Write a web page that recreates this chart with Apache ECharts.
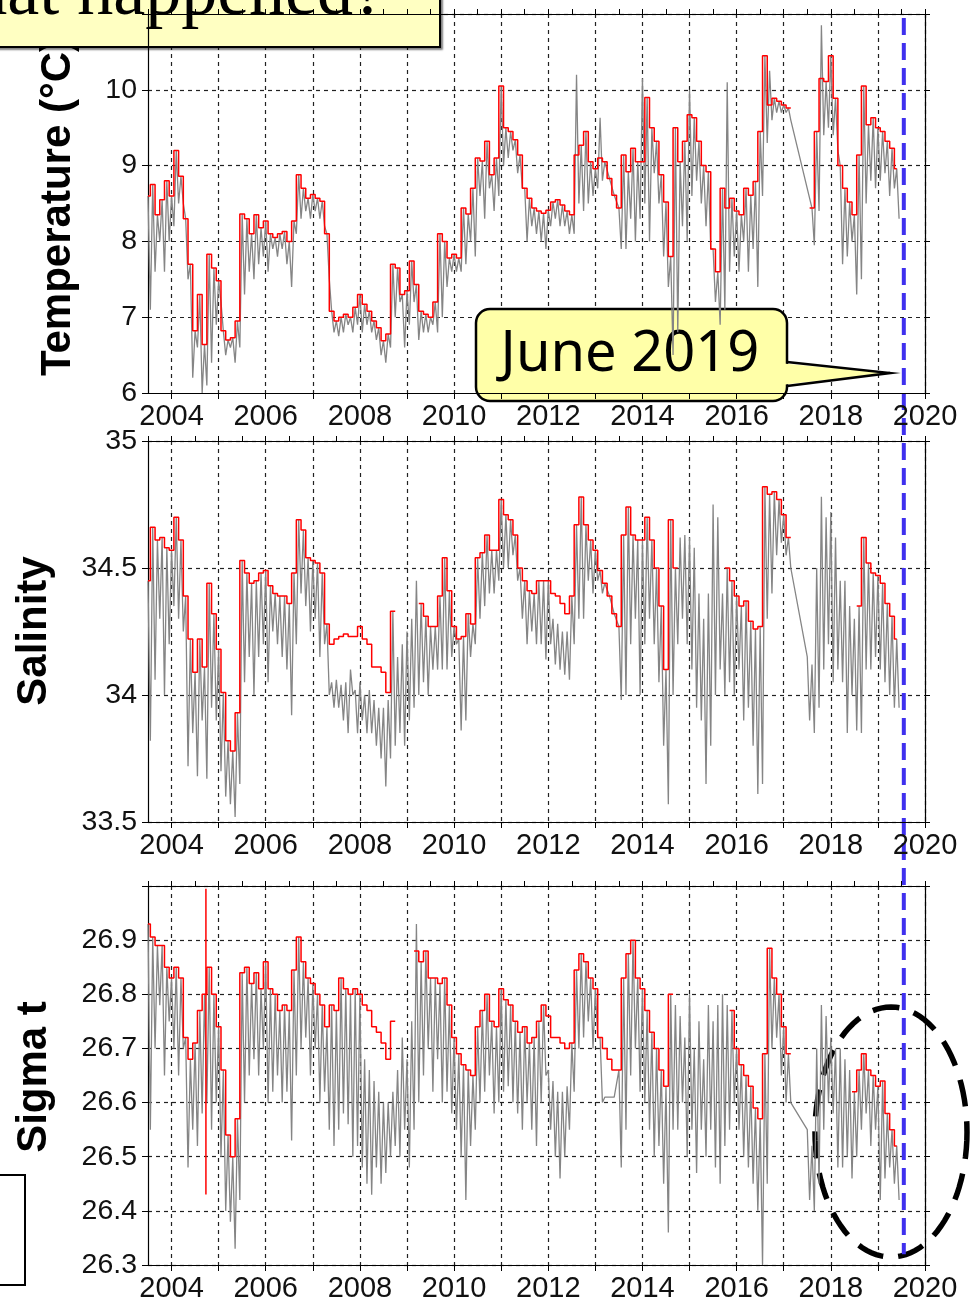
<!DOCTYPE html>
<html>
<head>
<meta charset="utf-8">
<title>Temperature, salinity and sigma t</title>
<script src="https://cdn.jsdelivr.net/npm/echarts@6/dist/echarts.min.js"></script>
<style>
  html, body { margin: 0; padding: 0; background: #fff; }
  #chart { width: 971px; height: 1304px; }
</style>
</head>
<body>
<div id="chart"></div>
<script>
// one sample every 0.1 yr, from 2003.5 to 2019.4 (160 values per array)
const t0 = 2003.5;
const dt = 0.1;

const years = [2004, 2005, 2006, 2007, 2008, 2009, 2010, 2011, 2012, 2013, 2014, 2015, 2016, 2017, 2018, 2019, 2020];
const yearLabels = [2004, 2006, 2008, 2010, 2012, 2014, 2016, 2018, 2020];
const june2019 = 2019.55;

// Temperature (°C): red = upper trace, gray spikes down to tLo
const tRed = [
  8.6, 8.75, 8.35, 8.55, 8.8,
  8.6, 9.2, 8.86, 8.3, 7.7, 6.82, 7.3, 6.64, 7.83, 7.65,
  7.48, 6.82, 6.7, 6.73, 6.95, 8.36, 8.3, 8.1, 8.35, 8.18,
  8.27, 8.1, 8.05, 8.1, 8.13, 8.0, 8.27, 8.88, 8.7, 8.57,
  8.62, 8.57, 8.53, 8.1, 7.08, 6.95, 7.0, 7.04, 7.0, 7.13,
  7.3, 7.17, 7.08, 6.95, 6.86, 6.69, 6.78, 7.7, 7.65, 7.3,
  7.35, 7.74, 7.43, 7.08, 7.04, 7.0, 7.2, 8.1, 8.0, 7.78,
  7.83, 7.78, 8.44, 8.36, 8.7, 9.1, 9.06, 9.32, 8.88, 9.1,
  10.05, 9.5, 9.45, 9.34, 9.14, 8.7, 8.57, 8.44, 8.4, 8.37,
  8.41, 8.52, 8.55, 8.48, 8.4, 8.35, 9.14, 9.27, 9.45, 9.05,
  8.96, 9.1, 9.05, 8.83, 8.61, 8.44, 9.14, 8.92, 9.23, 9.05,
  9.05, 9.9, 9.5, 9.32, 8.88, 8.52, 7.8, 9.5, 9.05, 9.32,
  9.67, 9.63, 9.32, 9.0, 8.92, 7.9, 7.6, 8.7, 8.44, 8.57,
  8.4, 8.35, 8.7, 8.61, 8.79, 9.45, 10.45, 9.8, 9.89, 9.85,
  9.8, 9.76, null, null, null, null, 8.44, 9.45, 10.15, 10.11,
  10.45, 9.89, 9.0, 8.7, 8.52, 8.35, 9.14, 10.05, 9.54, 9.63,
  9.5, 9.45, 9.32, 9.23, 8.96
];
const tLo = [
  7.1, 7.6, 8.0, 7.6, 8.0,
  8.2, 8.5, 8.5, 7.5, 6.2, 6.6, 6.0, 6.1, 6.4, 6.9,
  7.2, 6.5, 6.6, 6.4, 6.6, 7.3, 7.6, 7.5, 7.7, 7.8,
  7.6, 7.9, 7.8, 7.9, 7.7, 7.4, 8.1, 8.3, 8.4, 8.3,
  8.4, 8.3, 8.2, 7.5, 6.8, 6.75, 6.8, 6.9, 6.8, 6.9,
  6.8, 6.9, 6.8, 6.7, 6.5, 6.4, 6.6, 7.0, 7.2, 6.6,
  6.9, 7.2, 6.7, 6.8, 6.8, 6.9, 6.8, 7.0, 7.4, 7.6,
  7.6, 7.6, 7.7, 8.0, 7.8, 8.6, 8.3, 8.7, 8.4, 8.6,
  9.0, 9.1, 9.2, 8.9, 8.7, 8.0, 8.2, 8.1, 8.0, 7.9,
  8.2, 8.3, 8.2, 8.2, 8.1, 8.1, 8.5, 8.4, 8.5, 8.6,
  8.7, 8.8, null, null, null, 7.9, 7.9, 8.3, 8.0, 8.3,
  8.5, 8.0, 8.9, 8.5, 7.8, 7.4, 6.5, 6.8, 8.2, 8.0,
  8.6, 8.8, 8.5, 8.2, 7.9, 7.2, 6.9, 7.1, 7.6, 7.8,
  7.6, 8.0, 7.6, 7.9, 7.4, 8.6, 9.3, 9.6, 9.7, 9.7,
  9.7, 9.6, null, null, null, null, 7.95, 8.4, 9.4, 9.5,
  9.4, 9.2, 7.7, 7.8, 8.0, 7.3, 7.5, 8.5, 8.8, 8.7,
  8.8, 8.9, 8.6, 8.7, 8.3
];
// gray tops that differ from the red trace
const tUp = { '2012.6': 10.2, '2013.1': 9.63, '2014.0': 10.15, '2015.0': 10.0, '2015.8': 10.1, '2016.7': 10.25, '2017.8': 10.85 };

// Salinity
const sRed = [
  34.45, 34.66, 34.61, 34.62, 34.58,
  34.57, 34.7, 34.61, 34.39, 34.22, 34.09, 34.22, 34.11, 34.44, 34.32,
  34.18, 34.01, 33.82, 33.78, 33.93, 34.53, 34.48, 34.44, 34.45, 34.48,
  34.49, 34.43, 34.4, 34.39, 34.39, 34.36, 34.48, 34.69, 34.65, 34.54,
  34.53, 34.52, 34.48, 34.28, 34.2, 34.22, 34.23, 34.24, 34.23, 34.23,
  34.27, 34.22, 34.2, 34.11, 34.11, 34.09, 34.01, 34.33, null, null,
  null, null, null, 34.36, 34.31, 34.27, 34.27, 34.39, 34.54, 34.41,
  34.27, 34.22, 34.23, 34.32, 34.28, 34.54, 34.56, 34.63, 34.57, 34.57,
  34.77, 34.71, 34.69, 34.63, 34.5, 34.45, 34.41, 34.4, 34.45, 34.45,
  34.45, 34.4, 34.39, 34.36, 34.32, 34.39, 34.67, 34.78, 34.67, 34.61,
  34.57, 34.49, 34.44, 34.39, 34.32, 34.27, 34.63, 34.74, 34.63, 34.61,
  34.61, 34.7, 34.61, 34.5, 34.35, 34.1, 34.69, 34.5, null, null,
  null, null, null, null, null, null, null, null, 34.5, 34.45,
  34.39, 34.35, 34.37, 34.29, 34.26, 34.27, 34.82, 34.79, 34.8, 34.77,
  34.71, 34.62, null, null, null, null, null, null, null, null,
  null, null, null, null, null, null, 34.35, 34.62, 34.52, 34.48,
  34.47, 34.44, 34.36, 34.31, 34.22
];
const sLo = [
  33.82, 34.06, 34.3, 34.0, 34.2,
  34.35, 34.3, 34.25, 33.72, 33.85, 33.68, 33.9, 33.67, 33.95, 33.9,
  33.7, 33.6, 33.57, 33.52, 33.65, 34.05, 34.15, 34.0, 34.15, 34.2,
  34.05, 34.25, 34.2, 34.15, 34.1, 33.92, 34.2, 34.4, 34.35, 34.25,
  34.3, 34.15, 34.2, 34.0, 33.95, 33.95, 33.9, 33.85, 34.0, 33.85,
  33.9, 33.85, 33.85, 33.8, 33.75, 33.64, 33.75, 33.8, 33.85, 33.8,
  33.9, 33.95, 34.0, 34.05, 34.0, 34.1, 34.1, 34.1, 34.1, 34.15,
  34.2, 33.86, 33.9, 34.15, 34.2, 34.3, 34.35, 34.4, 34.4, 34.45,
  34.5, 34.5, 34.55, 34.45, 34.3, 34.2, 34.25, 34.2, 34.2, 34.14,
  34.2, 34.12, 34.1, 34.08, 34.06, 34.2, 34.3, 34.3, 34.45, 34.4,
  34.45, 34.4, null, null, null, 33.98, 34.0, 34.2, 34.3, 34.0,
  34.2, 34.3, 34.2, 34.05, 33.8, 33.57, 34.0, 34.2, 34.3, 34.2,
  34.1, 33.95, 33.9, 33.65, 33.8, 34.0, 34.1, 34.0, 34.05, 34.0,
  34.1, 33.9, 33.95, 33.8, 33.61, 33.65, 34.3, 34.4, 34.55, 34.6,
  34.55, 34.5, null, null, null, 33.9, 33.85, 33.95, 34.1, 34.2,
  34.05, 34.1, 34.05, 33.85, 34.0, 33.86, 33.85, 34.1, 34.1, 34.15,
  34.1, 34.05, 34.0, 33.95, 33.95
];
const sUp = {
  '2007.4': 34.05, '2007.5': 34.06, '2007.6': 34.04, '2007.7': 34.05, '2007.8': 34.1, '2007.9': 34.02,
  '2008.0': 34.05, '2008.1': 34.0, '2008.2': 34.02, '2008.3': 33.98, '2008.4': 33.95, '2008.5': 33.95, '2008.6': 33.98,
  '2008.8': 34.15, '2008.9': 34.2, '2009.0': 34.25, '2009.1': 34.3, '2009.2': 34.45,
  '2012.1': 34.3, '2012.2': 34.28, '2012.3': 34.25, '2012.4': 34.25,
  '2014.8': 34.62, '2014.9': 34.63, '2015.0': 34.62, '2015.1': 34.58, '2015.2': 34.4, '2015.3': 34.3,
  '2015.4': 34.4, '2015.5': 34.75, '2015.6': 34.7, '2015.7': 34.4,
  '2017.5': 34.15, '2017.6': 34.12, '2017.7': 34.5, '2017.8': 34.78, '2017.9': 34.7, '2018.0': 34.72,
  '2018.1': 34.62, '2018.2': 34.45, '2018.3': 34.45, '2018.4': 34.35, '2018.5': 34.3
};

// Sigma t
const gRed = [
  26.93, 26.906, 26.89, 26.89, 26.85,
  26.83, 26.85, 26.83, 26.72, 26.68, 26.71, 26.77, 26.8, 26.85, 26.8,
  26.74, 26.66, 26.54, 26.5, 26.57, 26.84, 26.85, 26.82, 26.84, 26.81,
  26.86, 26.81, 26.8, 26.77, 26.78, 26.77, 26.845, 26.906, 26.86, 26.83,
  26.82, 26.8, 26.78, 26.74, 26.78, 26.77, 26.83, 26.81, 26.8, 26.81,
  26.8, 26.78, 26.77, 26.74, 26.73, 26.71, 26.68, 26.75, null, null,
  null, null, 26.88, 26.86, 26.88, 26.83, 26.83, 26.82, 26.83, 26.78,
  26.72, 26.69, 26.67, 26.66, 26.65, 26.74, 26.77, 26.8, 26.75, 26.74,
  26.81, 26.79, 26.78, 26.75, 26.73, 26.74, 26.71, 26.72, 26.75, 26.78,
  26.76, 26.72, 26.72, 26.71, 26.7, 26.71, 26.845, 26.875, 26.86, 26.83,
  26.81, 26.72, 26.7, 26.68, 26.66, 26.66, 26.83, 26.875, 26.9, 26.83,
  26.81, 26.77, 26.73, 26.7, 26.66, 26.63, 26.8, null, null, null,
  null, null, null, null, null, null, null, null, null, 26.77,
  26.7, 26.67, 26.65, 26.63, 26.59, 26.57, 26.69, 26.885, 26.83, 26.8,
  26.74, 26.69, null, null, null, null, null, null, null, null,
  null, null, null, null, null, 26.62, 26.66, 26.69, 26.66, 26.65,
  26.63, 26.64, 26.58, 26.55, 26.52
];
const gLo = [
  26.55, 26.7, 26.78, 26.65, 26.75,
  26.7, 26.65, 26.7, 26.48, 26.55, 26.52, 26.58, 26.6, 26.55, 26.6,
  26.5, 26.4, 26.38, 26.33, 26.42, 26.6, 26.65, 26.68, 26.65, 26.7,
  26.6, 26.62, 26.65, 26.6, 26.62, 26.53, 26.65, 26.7, 26.72, 26.65,
  26.7, 26.6, 26.62, 26.55, 26.52, 26.55, 26.58, 26.56, 26.5, 26.52,
  26.48, 26.45, 26.43, 26.48, 26.45, 26.47, 26.5, 26.52, 26.5, 26.55,
  26.48, 26.55, 26.6, 26.65, 26.7, 26.62, 26.68, 26.6, 26.62, 26.58,
  26.55, 26.5, 26.42, 26.52, 26.55, 26.6, 26.62, 26.65, 26.58, 26.6,
  26.62, 26.63, 26.6, 26.58, 26.55, 26.6, 26.55, 26.52, 26.6, 26.65,
  26.55, 26.5, 26.46, 26.5, 26.55, 26.62, 26.7, 26.72, 26.75, 26.7,
  26.72, 26.6, null, null, null, 26.48, 26.55, 26.65, 26.7, 26.62,
  26.6, 26.55, 26.5, 26.52, 26.45, 26.36, 26.55, 26.55, 26.6, 26.5,
  26.55, 26.47, 26.55, 26.5, 26.55, 26.48, 26.45, 26.52, 26.55, 26.6,
  26.55, 26.5, 26.48, 26.45, 26.4, 26.3, 26.45, 26.7, 26.72, 26.65,
  26.6, 26.6, null, null, null, 26.42, 26.4, 26.45, 26.55, 26.6,
  26.58, 26.48, 26.48, 26.5, 26.46, 26.5, 26.55, 26.58, 26.52, 26.55,
  26.42, 26.46, 26.48, 26.45, 26.42
];
const gUp = {
  '2008.1': 26.68, '2008.2': 26.66, '2008.3': 26.64, '2008.4': 26.62, '2008.5': 26.6, '2008.6': 26.6, '2008.7': 26.62,
  '2008.8': 26.66, '2008.9': 26.72, '2009.0': 26.68, '2009.1': 26.75, '2009.2': 26.93,
  '2012.0': 26.66, '2012.1': 26.64, '2012.2': 26.62, '2012.3': 26.62, '2012.4': 26.63,
  '2013.2': 26.61, '2013.3': 26.61, '2013.4': 26.61,
  '2014.7': 26.78, '2014.8': 26.76, '2014.9': 26.72, '2015.0': 26.8, '2015.1': 26.7, '2015.2': 26.75,
  '2015.3': 26.68, '2015.4': 26.78, '2015.5': 26.75, '2015.6': 26.78, '2015.7': 26.8, '2015.8': 26.78,
  '2017.5': 26.55, '2017.6': 26.52, '2017.7': 26.7, '2017.8': 26.78, '2017.9': 26.76, '2018.0': 26.72,
  '2018.1': 26.7, '2018.2': 26.7, '2018.3': 26.68, '2018.4': 26.66
};
// single red spike in the sigma t record
const gSpike = [[2004.73, 26.43], [2004.73, 26.995]];

function tAt(i) { return Math.round((t0 + i * dt) * 100) / 100; }
function redLine(vals) { return vals.map((v, i) => [tAt(i), v]); }
// gray trace: top at each sample, low value half a step later
function grayLine(red, lo, up) {
  const pts = [];
  red.forEach((r, i) => {
    const t = tAt(i);
    const key = t.toFixed(1);
    const hi = key in up ? up[key] : r;
    if (hi != null) pts.push([t, hi]);
    if (lo[i] != null) pts.push([t + dt / 2, lo[i]]);
  });
  return pts;
}

const font = 'Liberation Sans';
const black = '#000';

function bottomX(g) {
  return {
    gridIndex: g, type: 'value', position: 'bottom', min: 2003.5, max: 2020,
    axisLine: { lineStyle: { color: black, width: 1.2 } },
    axisTick: { customValues: years, length: 6, lineStyle: { color: black } },
    axisLabel: { customValues: yearLabels, fontSize: 29, color: '#111', margin: 9, fontFamily: font,
      formatter: v => String(v) },
    splitLine: { show: true, lineStyle: { color: '#222', type: [4, 4], width: 1.2 } }
  };
}
function topX(g) {
  return {
    gridIndex: g, type: 'value', position: 'top', min: 2003.5, max: 2020, interval: 0.5,
    axisLine: { lineStyle: { color: black, width: 1.2 } },
    axisTick: { length: 5, lineStyle: { color: black } },
    axisLabel: { show: false },
    splitLine: { show: false }
  };
}
function leftY(g, min, max, step, fmt) {
  return {
    gridIndex: g, type: 'value', position: 'left', min: min, max: max, interval: step,
    axisLine: { show: true, lineStyle: { color: black, width: 1.2 } },
    axisTick: { show: true, length: 6, lineStyle: { color: black } },
    axisLabel: { fontSize: 28.5, color: '#111', margin: 11, fontFamily: font, formatter: fmt },
    splitLine: { show: true, lineStyle: { color: '#222', type: [4, 4], width: 1.2 } }
  };
}
function rightY(g, min, max, step) {
  return {
    gridIndex: g, type: 'value', position: 'right', min: min, max: max, interval: step,
    axisLine: { show: true, lineStyle: { color: black, width: 1.2 } },
    axisTick: { show: true, length: 5, lineStyle: { color: black } },
    axisLabel: { show: false },
    splitLine: { show: false }
  };
}
function gray(ax, data) {
  return { type: 'line', xAxisIndex: ax, yAxisIndex: ax, data: data, symbol: 'none',
    lineStyle: { color: '#858585', width: 1.3 }, z: 2, silent: true };
}
function red(ax, data, step) {
  return { type: 'line', xAxisIndex: ax, yAxisIndex: ax, data: data, symbol: 'none', connectNulls: false,
    step: step || false, lineStyle: { color: '#ff0000', width: 1.5 }, z: 3, silent: true };
}

const chart = echarts.init(document.getElementById('chart'));
chart.setOption({
  animation: false,
  backgroundColor: '#fff',
  textStyle: { fontFamily: font },
  grid: [
    { left: 148, top: 14, width: 777, height: 379 },
    { left: 148, top: 441, width: 777, height: 381 },
    { left: 148, top: 886, width: 777, height: 379 }
  ],
  xAxis: [bottomX(0), topX(0), bottomX(1), topX(1), bottomX(2), topX(2)],
  yAxis: [
    leftY(0, 6, 11, 1, v => (v >= 10.5 ? '' : String(v))),
    rightY(0, 6, 11, 1),
    leftY(1, 33.5, 35, 0.5, v => String(v)),
    rightY(1, 33.5, 35, 0.5),
    leftY(2, 26.3, 27.0, 0.1, v => (v >= 26.95 ? '' : v.toFixed(1))),
    rightY(2, 26.3, 27.0, 0.1)
  ],
  series: [
    gray(0, grayLine(tRed, tLo, tUp)),
    red(0, redLine(tRed), 'middle'),
    gray(2, grayLine(sRed, sLo, sUp)),
    red(2, redLine(sRed), 'middle'),
    gray(4, grayLine(gRed, gLo, gUp)),
    red(4, redLine(gRed), 'middle'),
    red(4, gSpike)
  ]
});

// annotations; the June 2019 line is placed through the axis scale
const xJune = chart.convertToPixel({ xAxisIndex: 0 }, june2019);
const yTop = chart.convertToPixel({ yAxisIndex: 0 }, 11);
const yBottom = chart.convertToPixel({ yAxisIndex: 4 }, 26.32);

const ell = { cx: 891, cy: 1132, rx: 76, ry: 125 };
const ellPts = [];
for (let k = 0; k <= 96; k++) {
  const a = (k / 96) * Math.PI * 2;
  ellPts.push([ell.cx + ell.rx * Math.cos(a), ell.cy + ell.ry * Math.sin(a)]);
}
const callFill = '#FFFFA8';

chart.setOption({
  graphic: { elements: [
    { type: 'text', x: 58, y: 207, rotation: Math.PI / 2,
      style: { text: 'Temperature (°C)', font: 'bold 42px "Liberation Sans"', fill: '#000', align: 'center', verticalAlign: 'middle' } },
    { type: 'text', x: 34, y: 631, rotation: Math.PI / 2,
      style: { text: 'Salinity', font: 'bold 42px "Liberation Sans"', fill: '#000', align: 'center', verticalAlign: 'middle' } },
    { type: 'text', x: 34, y: 1077, rotation: Math.PI / 2,
      style: { text: 'Sigma t', font: 'bold 42px "Liberation Sans"', fill: '#000', align: 'center', verticalAlign: 'middle' } },
    { type: 'rect', shape: { x: -6, y: -6, width: 446, height: 53 },
      style: { fill: '#FFFFC2', stroke: '#000', lineWidth: 2, shadowColor: 'rgba(0,0,0,0.4)', shadowOffsetX: 2, shadowOffsetY: 2, shadowBlur: 2 } },
    { type: 'text', x: 385, y: -5,
      style: { text: 'What happened?', font: '72px "Liberation Serif"', fill: '#000', align: 'right', verticalAlign: 'middle' } },
    { type: 'rect', shape: { x: -6, y: 1175, width: 31, height: 110 },
      style: { fill: '#fff', stroke: '#000', lineWidth: 2 } },
    { type: 'polygon', shape: { points: ellPts },
      style: { fill: 'none', stroke: '#000', lineWidth: 5.5, lineDash: [27, 15] } },
    { type: 'line', shape: { x1: xJune, y1: yTop + 4, x2: xJune, y2: yBottom },
      style: { stroke: '#3F30EE', lineWidth: 4, lineDash: [17, 8] } },
    { type: 'rect', shape: { x: 476, y: 309, width: 311, height: 92, r: 14 },
      style: { fill: callFill, stroke: '#000', lineWidth: 2.5 } },
    { type: 'polygon', shape: { points: [[783, 363.5], [888, 373], [783, 384.8]] },
      style: { fill: callFill, stroke: 'none' } },
    { type: 'polyline', shape: { points: [[787, 362], [890, 373], [787, 386]] },
      style: { fill: 'none', stroke: '#000', lineWidth: 2.5 } },
    { type: 'text', x: 630, y: 355,
      style: { text: 'June 2019', font: '56px "Noto Sans"', fill: '#000', align: 'center', verticalAlign: 'middle' } }
  ] }
});
</script>
</body>
</html>
